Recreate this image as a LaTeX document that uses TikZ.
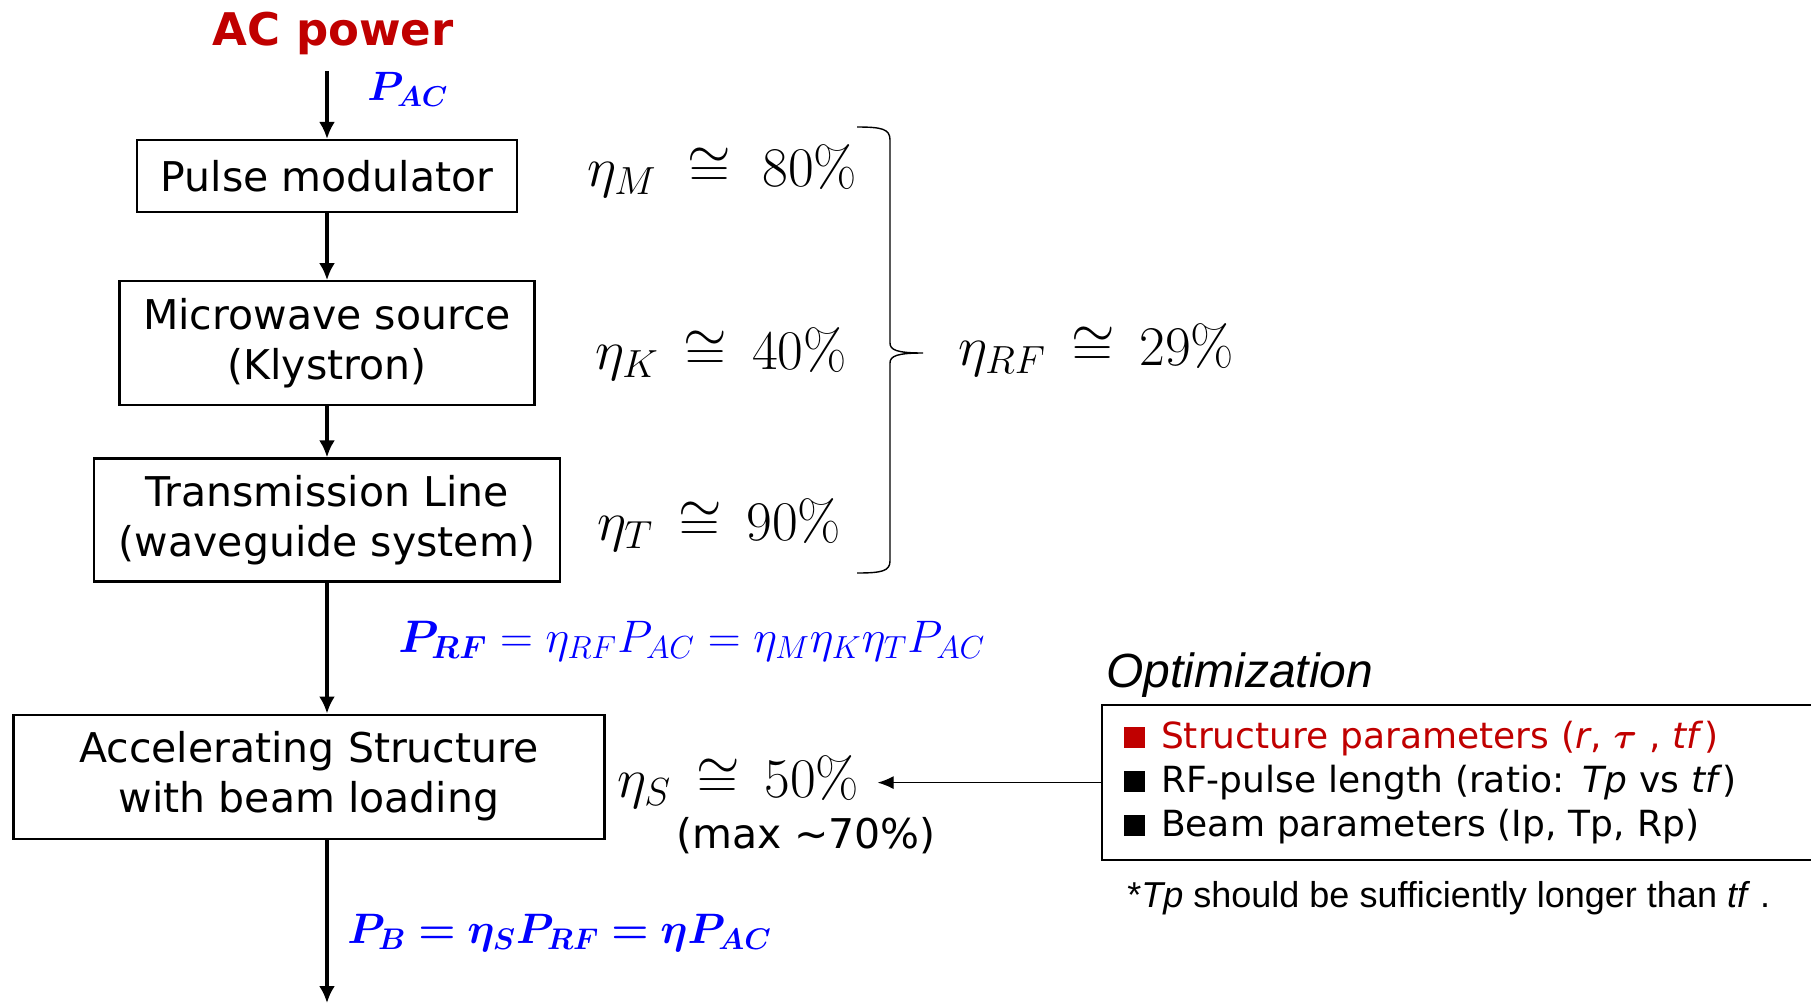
\RequirePackage{fix-cm}
\documentclass[tikz,border=0pt]{standalone}
\usepackage{amsmath,bm}
\usepackage[no-math]{fontspec}
\setmainfont{DejaVu Sans}
\newfontfamily\arialfont{Liberation Sans}
\usepackage{tikz}
\usetikzlibrary{arrows.meta,positioning}
\definecolor{acred}{RGB}{192,0,0}
\definecolor{pblue}{RGB}{0,0,255}
\newcommand{\sqbul}{\rule[0.5pt]{10.5pt}{10.5pt}\hspace{8pt}}

\begin{document}
\begin{tikzpicture}[
  x=0.5pt,y=-0.5pt,
  blk/.style={draw,line width=1.1pt,align=center,inner sep=0pt,
              font=\fontsize{20.5}{25}\selectfont},
  lbl/.style={inner sep=0pt,anchor=base west,font=\fontsize{28}{32}\selectfont},
  eqn/.style={inner sep=0pt,anchor=base west,text=pblue,font=\fontsize{22.8}{27}\selectfont},
  arr/.style={-{Latex[length=8.5pt,width=8pt]},line width=1.6pt},
  thinarr/.style={-{Latex[length=8pt,width=6.5pt]},line width=0.6pt},
]
\useasboundingbox (0,0) rectangle (1811,1003);
\clip (0,0) rectangle (1811,1003);
% ----- power chain
\node[blk,minimum width=190pt,minimum height=36pt] (mod) at (327,176) {Pulse modulator};
\node[blk,below=33.5pt of mod,minimum width=207.5pt,minimum height=62pt] (kly) {Microwave source\\(Klystron)};
\node[blk,below=25.5pt of kly,minimum width=233pt,minimum height=61.5pt] (wg) {Transmission Line\\(waveguide system)};
\node[blk,below=65.5pt of wg,xshift=-9pt,minimum width=295.5pt,minimum height=62pt] (acc) {Accelerating Structure\\with beam loading};
% ----- input
\node[inner sep=0pt,anchor=base,text=acred,font=\fontsize{22.5}{27}\selectfont\bfseries] (acpow) at (333,45) {AC power};
\coordinate[above=34pt of mod.north] (acin);
\node[eqn,font=\fontsize{20.5}{25}\selectfont] (pac) at (367,100) {$\bm{P_{AC}}$};
\draw[arr] (acin) -- (mod);
\draw[arr] (mod) -- (kly);
\draw[arr] (kly) -- (wg);
\draw[arr] (wg) -- (wg.south |- acc.north);
\coordinate (beamout) at (wg.south |- 0,1003);
\draw[arr] (acc.south -| wg.south) -- (beamout);
% ----- efficiencies
\node[lbl] (etaM) at (587,186) {$\eta_M\;\cong\;80\%$};
\node[lbl] (etaK) at (595,369) {$\eta_K\,\cong\,40\%$};
\node[lbl] (etaT) at (597,540) {$\eta_T\,\cong\,90\%$};
\draw[line width=0.7pt] (857,127) .. controls (882,127) and (890,129) .. (890,140) -- (890,343)
  .. controls (890,350) and (897,353) .. (923,353)
  .. controls (897,353) and (890,356) .. (890,363) -- (890,561)
  .. controls (890,571) and (882,573) .. (857,573);
\node[lbl] (etaRF) at (958,365) {$\eta_{RF}\,\cong\,29\%$};
\node[lbl] (etaS) at (617,797) {$\eta_S\,\cong\,50\%$};
\node[blk,draw=none,anchor=base west] (smax) at (675,848) {(max \textasciitilde70\%)};
% ----- power relations
\node[eqn] (prf) at (398,652) {$\bm{P_{RF}} = \eta_{RF}P_{AC} = \eta_M\eta_K\eta_T P_{AC}$};
\node[eqn,font=\fontsize{21.3}{26}\selectfont] (pb) at (347,943) {$\bm{P_B = \eta_S P_{RF} = \eta P_{AC}}$};
% ----- optimization
\node[draw,line width=1.1pt,anchor=north west,inner xsep=11pt,inner ysep=0pt,text width=340pt,
      minimum height=77.5pt,align=left,font=\fontsize{18}{22}\selectfont] (opt) at (1101,704)
  {{\color{acred}\sqbul Structure parameters (\textit{r}, $\bm{\tau}$ , \textit{tf})}\\
   \sqbul RF-pulse length (ratio: \textit{Tp} vs \textit{tf})\\
   \sqbul Beam parameters (Ip, Tp, Rp)};
\node[inner sep=0pt,anchor=base west,font={\arialfont\itshape\fontsize{24}{28}\selectfont}] (optlbl) at (1106,687) {Optimization};
\node[inner sep=0pt,anchor=base west,font={\arialfont\fontsize{18}{22}\selectfont}] (fnote) at (1127,907)
  {*\textit{Tp} should be sufficiently longer than \textit{tf} .};
\draw[thinarr,shorten >=9pt] (opt.west) -- (opt.west -| etaS.east);
\end{tikzpicture}
\end{document}
